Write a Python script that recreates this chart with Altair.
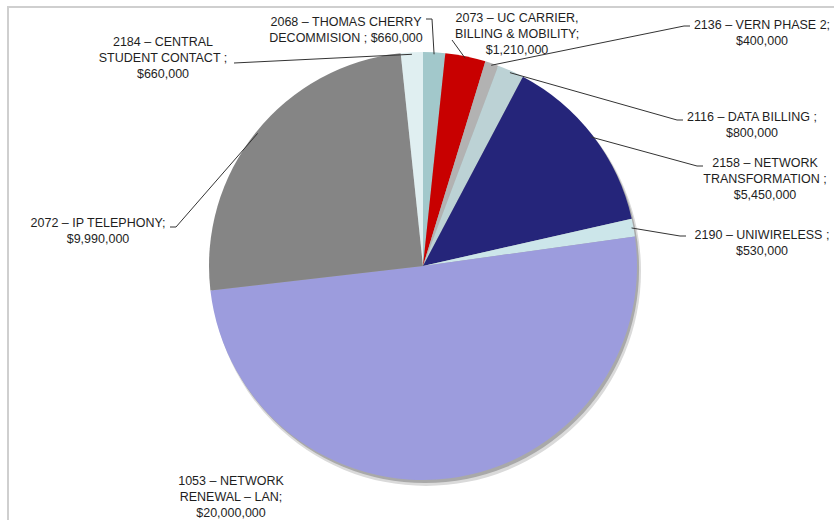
import math
import altair as alt
import pandas as pd

# ---- data ----
codes = ["2068", "2073", "2136", "2116", "2158", "2190", "1053", "2072", "2184"]
values = [660000, 1210000, 400000, 800000, 5450000, 530000, 20000000, 9990000, 660000]
label_lines = [
    ["2068 – THOMAS CHERRY", "DECOMMISION ; $660,000"],
    ["2073 – UC CARRIER,", "BILLING & MOBILITY;", "$1,210,000"],
    ["2136 – VERN PHASE 2;", "$400,000"],
    ["2116 – DATA BILLING ;", "$800,000"],
    ["2158 – NETWORK", "TRANSFORMATION ;", "$5,450,000"],
    ["2190 – UNIWIRELESS ;", "$530,000"],
    ["1053 – NETWORK", "RENEWAL – LAN;", "$20,000,000"],
    ["2072 – IP TELEPHONY;", "$9,990,000"],
    ["2184 – CENTRAL", "STUDENT CONTACT ;", "$660,000"],
]

# ---- styles / layout ----
colors = ["#A2C8CB", "#C80000", "#B2B2B2", "#BCD2D5", "#25257A",
          "#CCE6EA", "#9C9CDD", "#858585", "#E0EFF1"]
CX, CY, R = 423, 266, 214
LH = 16
label_anchor = [(346, 22), (517, 18), (762, 25), (752, 117), (765, 163),
                (762, 235), (231, 481), (98, 223), (163, 42)]
leader_tail = [
    [(432, 19), (426, 19)],
    [(452, 40)],
    [(684, 26), (690, 26)],
    [(677, 120), (683, 120)],
    [(697, 166), (703, 166)],
    [(680, 236), (686, 236)],
    [],
    [(176, 227), (170, 227)],
    [(234, 63)],
]

pie_df = pd.DataFrame({"code": codes, "value": values, "idx": list(range(len(codes)))})

# label rows
text_rows = []
for (ax, ay), lines in zip(label_anchor, label_lines):
    for i, t in enumerate(lines):
        text_rows.append({"x": ax, "y": ay + i * LH, "t": t})
text_df = pd.DataFrame(text_rows)

# leader lines: start at slice mid-angle on the rim
total = sum(values)
line_rows = []
cum = 0
for code, v, tail in zip(codes, values, leader_tail):
    mid = (cum + v / 2) / total * 2 * math.pi
    cum += v
    if not tail:
        continue
    ex = CX + (R - 2) * math.sin(mid)
    ey = CY - (R - 2) * math.cos(mid)
    pts = [(ex, ey)] + tail
    for k, (px, py) in enumerate(pts):
        line_rows.append({"code": code, "k": k, "x": px, "y": py})
line_df = pd.DataFrame(line_rows)

frame_df = pd.DataFrame({"x": [7, 8], "y": [7, 7], "x2": [834, 8], "y2": [7, 520]})
dummy = pd.DataFrame({"a": [0]})

frame = alt.Chart(frame_df).mark_rule(color="#cfcfcf", strokeWidth=2).encode(
    x=alt.X("x:Q", scale=None), y=alt.Y("y:Q", scale=None),
    x2="x2:Q", y2="y2:Q")

shadow1 = alt.Chart(dummy).mark_arc(theta=0, theta2=2 * math.pi, radius=R + 1,
                                    color="#dadada").encode(
    x=alt.value(CX + 3), y=alt.value(CY + 5))
shadow2 = alt.Chart(dummy).mark_arc(theta=0, theta2=2 * math.pi, radius=R,
                                    color="#a9a9a9").encode(
    x=alt.value(CX + 2), y=alt.value(CY + 3))

pie = alt.Chart(pie_df).mark_arc(radius=R).encode(
    theta=alt.Theta("value:Q", stack=True),
    order=alt.Order("idx:Q"),
    color=alt.Color("code:N", scale=alt.Scale(domain=codes, range=colors), legend=None),
    x=alt.value(CX), y=alt.value(CY))

leaders = alt.Chart(line_df).mark_line(color="#333333", strokeWidth=1).encode(
    x=alt.X("x:Q", scale=None), y=alt.Y("y:Q", scale=None),
    detail="code:N", order="k:Q")

labels = alt.Chart(text_df).mark_text(
    font="Liberation Sans", fontSize=12.5, color="#1e1e1e",
    align="center", baseline="middle").encode(
    x=alt.X("x:Q", scale=None), y=alt.Y("y:Q", scale=None), text="t:N")

chart = alt.layer(frame, shadow1, shadow2, pie, leaders, labels).properties(
    width=834, height=520, autosize=alt.AutoSizeParams(type="none"),
    padding=0, background="white"
).configure_view(stroke=None)

chart.save("out.html", embed_options={"renderer": "svg", "actions": False})
